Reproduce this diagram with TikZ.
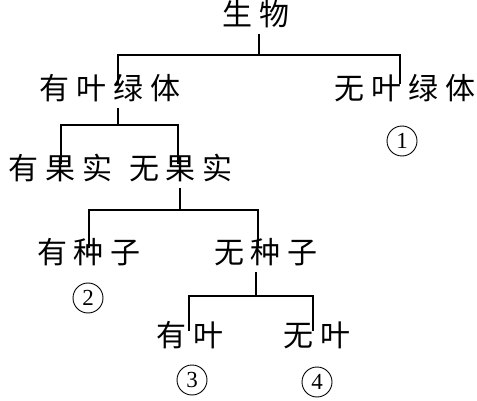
\documentclass[tikz,border=0pt]{standalone}
\usepackage{fontspec}
\setmainfont{Liberation Serif}
\newfontfamily\cjk{Noto Sans CJK SC}
\newcommand\gp{\hspace{7pt}}
\begin{document}
\begin{tikzpicture}[x=1pt,y=-1pt,
  lbl/.style={font=\cjk\fontsize{30}{32}\selectfont, inner sep=0pt, text height=0.8em, text depth=0.06em, outer xsep=0pt, outer ysep=8pt},
  num/.style={draw, circle, line width=0.9pt, minimum size=30pt, inner sep=0pt, font=\fontsize{23}{25}\selectfont},
  conn/.style={line width=1.3pt}]
\useasboundingbox (0,0) rectangle (477,401);
\fill[white] (0,0) rectangle (477,401);
% nodes
\node[lbl] (root) at (256,22) {生\gp 物};
\node[lbl] (yl) at (110,96) {有\gp 叶\gp 绿\gp 体};
\node[lbl] (wl) at (405,96) {无\gp 叶\gp 绿\gp 体};
\node[num] (n1) at (402,141) {1};
\node[lbl] (yg) at (61,176) {有\gp 果\gp 实};
\node[lbl] (wg) at (181,176) {无\gp 果\gp 实};
\node[lbl] (yz) at (89,260) {有\gp 种\gp 子};
\node[num] (n2) at (88,298) {2};
\node[lbl] (wz) at (266,260) {无\gp 种\gp 子};
\node[lbl] (yy) at (190,343) {有\gp 叶};
\node[num] (n3) at (192,380) {3};
\node[lbl] (wy) at (317,343) {无\gp 叶};
\node[num] (n4) at (317,382) {4};
% junctions
\coordinate (s1) at (259,55); \coordinate (L1) at (118,55); \coordinate (R1) at (400,55);
\coordinate (s2) at (118,125); \coordinate (L2) at (61,125); \coordinate (R2) at (178,125);
\coordinate (s3) at (180,210); \coordinate (L3) at (89,210); \coordinate (R3) at (258,210);
\coordinate (s4) at (256,296); \coordinate (L4) at (189,296); \coordinate (R4) at (313,296);
% connectors
\draw[conn] (s1 |- root.south) -- (s1);
\draw[conn] (L1 |- yl.north) -- (L1) -- (R1) -- (R1 |- wl.north);
\draw[conn] (s2 |- yl.south) -- (s2);
\draw[conn] (L2 |- yg.north) -- (L2) -- (R2) -- (R2 |- wg.north);
\draw[conn] (s3 |- wg.south) -- (s3);
\draw[conn] (L3 |- yz.north) -- (L3) -- (R3) -- (R3 |- wz.north);
\draw[conn] (s4 |- wz.south) -- (s4);
\draw[conn] (L4 |- yy.north) -- (L4) -- (R4) -- (R4 |- wy.north);
\end{tikzpicture}
\end{document}
